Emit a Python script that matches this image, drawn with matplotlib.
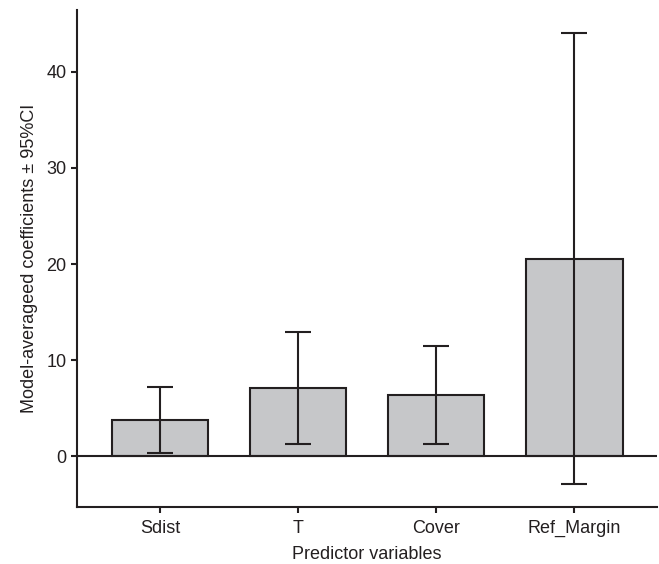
import matplotlib.pyplot as plt
import numpy as np

plt.rcParams['font.family'] = ['Liberation Sans', 'DejaVu Sans']

predictors = ["Sdist", "T", "Cover", "Ref_Margin"]
coef = [3.77, 7.13, 6.40, 20.56]
ci_low = [0.38, 1.25, 1.25, -2.87]
ci_high = [7.20, 12.95, 11.50, 44.00]

ink = "#231f20"

fig = plt.figure(figsize=(6.59, 5.64), dpi=100)
ax = fig.add_axes([0.117, 0.101, 0.880, 0.881])

x = np.arange(len(predictors))
coef = np.array(coef)
yerr = [coef - np.array(ci_low), np.array(ci_high) - coef]

ax.bar(x, coef, width=0.7, color="#c6c7c9", edgecolor=ink, linewidth=1.5, zorder=2)
ax.errorbar(x, coef, yerr=yerr, fmt="none", ecolor=ink, elinewidth=1.5,
            capsize=9.7, capthick=1.5, zorder=3)
ax.axhline(0, color=ink, linewidth=1.5, zorder=4)

ax.set_xlim(-0.6, 3.6)
ax.set_ylim(-5.26, 46.4)
ax.set_xticks(x)
ax.set_xticklabels(predictors)
ax.set_yticks([0, 10, 20, 30, 40])

for s in ["top", "right"]:
    ax.spines[s].set_visible(False)
for s in ["left", "bottom"]:
    ax.spines[s].set_color(ink)
    ax.spines[s].set_linewidth(1.5)

ax.tick_params(axis="both", colors=ink, labelcolor=ink, labelsize=13,
               length=4, width=1.5)
ax.tick_params(axis="x", pad=5)
ax.set_xlabel("Predictor variables", fontsize=13, color=ink, labelpad=7)
ax.set_ylabel("Model-averageed coefficients ± 95%CI", fontsize=13, color=ink, labelpad=6)

plt.savefig("out.png", dpi=100)
